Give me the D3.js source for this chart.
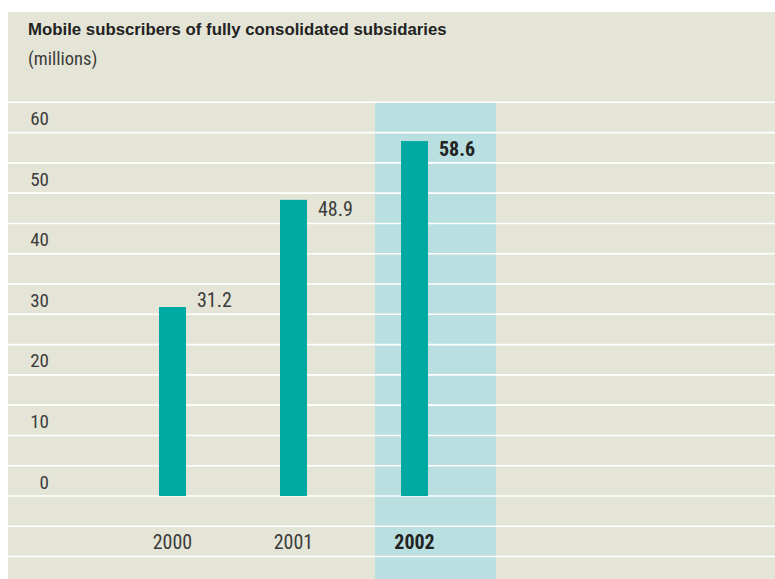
<!DOCTYPE html>
<html>
<head>
<meta charset="utf-8">
<script src="https://cdn.jsdelivr.net/npm/d3@7"></script>
<style>
  html, body { margin: 0; padding: 0; background: #ffffff; }
  svg { display: block; }
  .num { font-family: "Liberation Sans Narrow", "Roboto Condensed", "Roboto", sans-serif; font-stretch: condensed; }
  .ttl { font-family: "Liberation Sans", Arial, sans-serif; }
</style>
</head>
<body>
<svg id="chart" width="775" height="579"></svg>
<script>
// Mobile subscribers per year, in millions
const years = ["2000", "2001", "2002"];
const subscribers = [31.2, 48.9, 58.6];
const highlightYear = "2002";
const yTicks = [0, 10, 20, 30, 40, 50, 60];
const gridValues = d3.range(-10, 70, 5);

const W = 775, H = 579;
const svg = d3.select("#chart");

// Panel background
svg.append("rect")
  .attr("x", 8).attr("y", 12)
  .attr("width", W - 8).attr("height", H - 12)
  .attr("fill", "#e5e5d7");

const y = d3.scaleLinear().domain([0, 60]).range([496, 132.6]);

// One column per year; the bar sits in the left part of its column
const col = d3.scaleBand().domain(years).range([133, 496]).padding(0);
const barOffset = 26, barWidth = 27;

// Highlighted column for the current year
svg.append("rect")
  .attr("x", col(highlightYear))
  .attr("y", y(65))
  .attr("width", col.bandwidth())
  .attr("height", H - y(65))
  .attr("fill", "#b9dfe0");

// Horizontal white rules every 5 million
svg.append("g")
  .selectAll("line")
  .data(gridValues)
  .join("line")
  .attr("x1", 8).attr("x2", W)
  .attr("y1", d => y(d)).attr("y2", d => y(d))
  .attr("stroke", "#ffffff")
  .attr("stroke-width", 1.6);

// Bars
svg.append("g")
  .selectAll("rect")
  .data(years)
  .join("rect")
  .attr("x", d => col(d) + barOffset)
  .attr("width", barWidth)
  .attr("y", (d, i) => y(subscribers[i]))
  .attr("height", (d, i) => y(0) - y(subscribers[i]))
  .attr("fill", "#00a9a1");

// Value labels, set in the grid row that holds each bar's top
svg.append("g")
  .selectAll("text")
  .data(years)
  .join("text")
  .attr("class", "num")
  .attr("x", d => col(d) + barOffset + barWidth + 11)
  .attr("y", (d, i) => y(Math.floor(subscribers[i] / 5) * 5) - 7)
  .attr("font-size", 20)
  .attr("font-weight", d => d === highlightYear ? "bold" : "normal")
  .attr("fill", d => d === highlightYear ? "#222222" : "#3c3c3c")
  .text((d, i) => subscribers[i].toFixed(1));

// Value axis labels
const yAxis = svg.append("g")
  .attr("transform", "translate(49,0)")
  .call(d3.axisLeft(y).tickValues(yTicks).tickSize(0).tickPadding(0));
yAxis.select(".domain").remove();
yAxis.selectAll("text")
  .attr("class", "num")
  .attr("font-size", 19)
  .attr("fill", "#3c3c3c")
  .attr("dy", null)
  .attr("y", -8);

// Year labels
svg.append("g")
  .selectAll("text")
  .data(years)
  .join("text")
  .attr("class", "num")
  .attr("x", d => col(d) + barOffset + barWidth / 2)
  .attr("y", 549)
  .attr("text-anchor", "middle")
  .attr("font-size", 20)
  .attr("font-weight", d => d === highlightYear ? "bold" : "normal")
  .attr("fill", d => d === highlightYear ? "#222222" : "#3c3c3c")
  .text(d => d);

// Title and unit
svg.append("text")
  .attr("class", "ttl")
  .attr("x", 28).attr("y", 35)
  .attr("font-size", 16.8)
  .attr("font-weight", "bold")
  .attr("fill", "#222222")
  .text("Mobile subscribers of fully consolidated subsidaries");

svg.append("text")
  .attr("class", "num")
  .attr("x", 28).attr("y", 65)
  .attr("font-size", 18.5)
  .attr("fill", "#3c3c3c")
  .text("(millions)");
</script>
</body>
</html>
